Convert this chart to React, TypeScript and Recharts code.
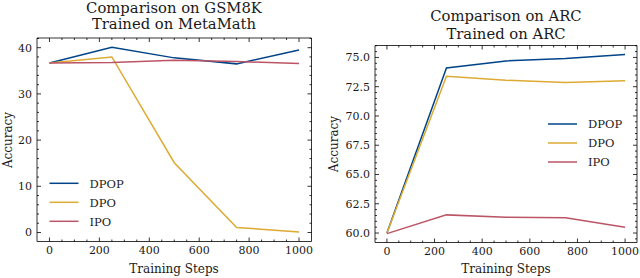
import { Line, LineChart, XAxis, YAxis } from "recharts";

const steps = [0, 250, 500, 750, 1000];

const gsmDpop = [36.7, 40.1, 37.8, 36.5, 39.5];
const gsmDpo = [36.7, 38.0, 15.1, 1.1, 0.1];
const gsmIpo = [36.7, 36.8, 37.3, 37.0, 36.6];

const arcDpop = [60.0, 74.1, 74.7, 74.9, 75.25];
const arcDpo = [60.0, 73.4, 73.05, 72.85, 73.0];
const arcIpo = [59.95, 61.55, 61.35, 61.3, 60.5];

const stepTicks = [0, 200, 400, 600, 800, 1000];
const gsmTicks = [0, 10, 20, 30, 40];
const arcTicks = [60.0, 62.5, 65.0, 67.5, 70.0, 72.5, 75.0];

const seriesNames = ["DPOP", "DPO", "IPO"];
const colors = ["#004488", "#DDAA33", "#BB5566"];

const FONT = "DejaVu Serif";
const INK = "#1a1a1a";

// minor ticks between (and just past) majors
function withMinor(majors: number[], sub: number, lo: number, hi: number) {
  const step = (majors[1] - majors[0]) / sub;
  const out: number[] = [];
  for (let i = -sub; i <= (majors.length - 1) * sub + sub; i++) {
    const v = majors[0] + i * step;
    if (v >= lo && v <= hi) out.push(Math.round(v * 1000) / 1000);
  }
  return out;
}

function makeTick(side: string, majors: number[], fmt?: (v: number) => string) {
  return (props: any) => {
    const { x, y, payload } = props;
    const v = payload.value;
    const major = majors.some((m) => Math.abs(m - v) < 1e-6);
    const len = major ? 4 : 2;
    let line = null;
    let label = null;
    if (side === "bottom") {
      line = <line x1={x} x2={x} y1={y} y2={y - len} stroke="#000" strokeWidth={0.8} />;
      if (major && fmt)
        label = (
          <text x={x} y={y + 12} textAnchor="middle" fontFamily={FONT} fontSize={11} fill={INK}>
            {fmt(v)}
          </text>
        );
    } else if (side === "top") {
      line = <line x1={x} x2={x} y1={y} y2={y + len} stroke="#000" strokeWidth={0.8} />;
    } else if (side === "left") {
      line = <line x1={x} x2={x + len} y1={y} y2={y} stroke="#000" strokeWidth={0.8} />;
      if (major && fmt)
        label = (
          <text x={x - 5} y={y + 4} textAnchor="end" fontFamily={FONT} fontSize={11} fill={INK}>
            {fmt(v)}
          </text>
        );
    } else {
      line = <line x1={x} x2={x - len} y1={y} y2={y} stroke="#000" strokeWidth={0.8} />;
    }
    return (
      <g>
        {line}
        {label}
      </g>
    );
  };
}

function buildRows(a: number[], b: number[], c: number[]) {
  return steps.map((s, i) => ({ step: s, DPOP: a[i], DPO: b[i], IPO: c[i] }));
}

interface PanelProps {
  rows: any[];
  yDomain: [number, number];
  yMajors: number[];
  yMinorSub: number;
  yFmt: (v: number) => string;
  margin: { top: number; right: number; bottom: number; left: number };
}

function Panel({ rows, yDomain, yMajors, yMinorSub, yFmt, margin }: PanelProps) {
  const xDomain: [number, number] = [-50, 1050];
  const xAll = withMinor(stepTicks, 4, xDomain[0] + 1, xDomain[1] - 1);
  const yAll = withMinor(yMajors, yMinorSub, yDomain[0], yDomain[1]);
  const fmtX = (v: number) => String(v);
  // axes take 1px each, so shave it off the margins
  const m = {
    top: margin.top - 1,
    right: margin.right - 1,
    bottom: margin.bottom - 1,
    left: margin.left - 1,
  };
  const axisLine = { stroke: "#000", strokeWidth: 0.8 };
  return (
    <LineChart width={320} height={278} data={rows} margin={m}>
      <XAxis
        dataKey="step"
        type="number"
        domain={xDomain}
        ticks={xAll}
        interval={0}
        height={1}
        tickSize={0}
        tickMargin={0}
        tickLine={false}
        axisLine={axisLine}
        tick={makeTick("bottom", stepTicks, fmtX)}
        allowDataOverflow
      />
      <XAxis
        xAxisId="top"
        orientation="top"
        dataKey="step"
        type="number"
        domain={xDomain}
        ticks={xAll}
        interval={0}
        height={1}
        tickSize={0}
        tickMargin={0}
        tickLine={false}
        axisLine={axisLine}
        tick={makeTick("top", stepTicks)}
        allowDataOverflow
      />
      <YAxis
        type="number"
        domain={yDomain}
        ticks={yAll}
        interval={0}
        width={1}
        tickSize={0}
        tickMargin={0}
        tickLine={false}
        axisLine={axisLine}
        tick={makeTick("left", yMajors, yFmt)}
        allowDataOverflow
      />
      <YAxis
        yAxisId="right"
        orientation="right"
        type="number"
        domain={yDomain}
        ticks={yAll}
        interval={0}
        width={1}
        tickSize={0}
        tickMargin={0}
        tickLine={false}
        axisLine={axisLine}
        tick={makeTick("right", yMajors)}
        allowDataOverflow
      />
      {seriesNames.map((name, i) => (
        <Line
          key={name}
          dataKey={name}
          type="linear"
          stroke={colors[i]}
          strokeWidth={1.5}
          dot={false}
          isAnimationActive={false}
        />
      ))}
    </LineChart>
  );
}

function LegendBox({ x, y, gap }: { x: number; y: number; gap: number }) {
  return (
    <g>
      {seriesNames.map((name, i) => (
        <g key={name}>
          <line x1={x} x2={x + 29} y1={y + i * gap} y2={y + i * gap} stroke={colors[i]} strokeWidth={1.5} />
          <text x={x + 40} y={y + i * gap + 4.2} fontFamily={FONT} fontSize={11.5} fill={INK}>
            {name}
          </text>
        </g>
      ))}
    </g>
  );
}

export default function App() {
  return (
    <div style={{ position: "absolute", left: 0, top: 0, width: 640, height: 278, background: "#fff" }}>
      <div style={{ position: "absolute", left: 0, top: 0 }}>
        <Panel
          rows={buildRows(gsmDpop, gsmDpo, gsmIpo)}
          yDomain={[-1.95, 42.1]}
          yMajors={gsmTicks}
          yMinorSub={5}
          yFmt={(v) => String(v)}
          margin={{ top: 38, right: 8.5, bottom: 36.5, left: 37 }}
        />
      </div>
      <div style={{ position: "absolute", left: 320, top: 0 }}>
        <Panel
          rows={buildRows(arcDpop, arcDpo, arcIpo)}
          yDomain={[59.19, 76.02]}
          yMajors={arcTicks}
          yMinorSub={5}
          yFmt={(v) => v.toFixed(1)}
          margin={{ top: 45.5, right: 3, bottom: 35.5, left: 55 }}
        />
      </div>
      <svg width={640} height={278} style={{ position: "absolute", left: 0, top: 0, pointerEvents: "none" }}>
        <g fill={INK} fontFamily={FONT}>
          <text x={174} y={12.7} textAnchor="middle" fontSize={14.8}>
            Comparison on GSM8K
          </text>
          <text x={174} y={29.3} textAnchor="middle" fontSize={14.8}>
            Trained on MetaMath
          </text>
          <text x={506} y={20.7} textAnchor="middle" fontSize={14.8}>
            Comparison on ARC
          </text>
          <text x={506} y={39} textAnchor="middle" fontSize={14.8}>
            Trained on ARC
          </text>
          <text x={174} y={273} textAnchor="middle" fontSize={12}>
            Training Steps
          </text>
          <text x={506} y={273} textAnchor="middle" fontSize={12}>
            Training Steps
          </text>
          <text x={11.5} y={140} textAnchor="middle" fontSize={12} transform="rotate(-90 11.5 140)">
            Accuracy
          </text>
          <text x={337.5} y={144} textAnchor="middle" fontSize={12} transform="rotate(-90 337.5 144)">
            Accuracy
          </text>
        </g>
        <LegendBox x={49.5} y={183.3} gap={19} />
        <LegendBox x={548} y={124} gap={19} />
      </svg>
    </div>
  );
}
